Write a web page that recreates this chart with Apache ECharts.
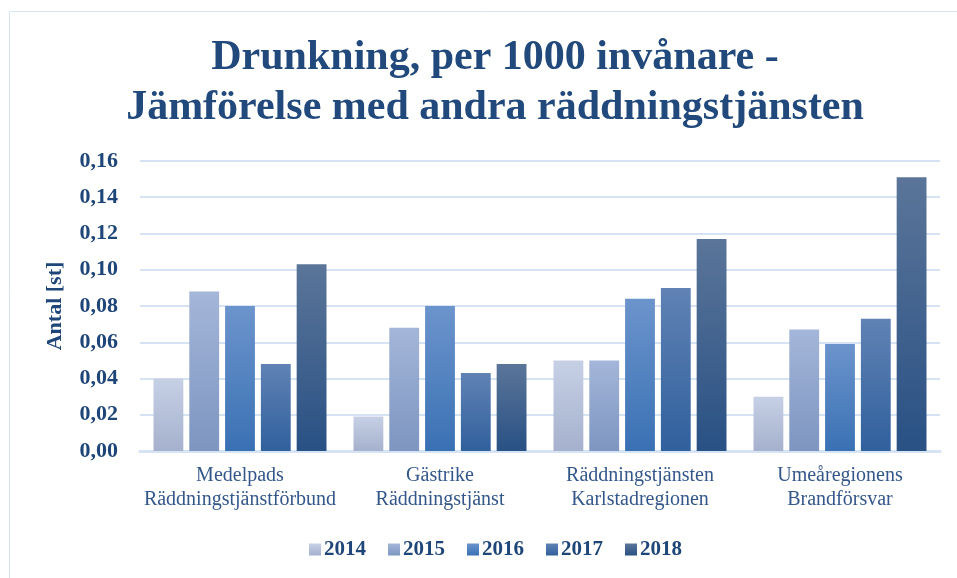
<!DOCTYPE html>
<html>
<head>
<meta charset="utf-8">
<script src="https://cdn.jsdelivr.net/npm/echarts@6/dist/echarts.min.js"></script>
<style>
  html, body { margin: 0; padding: 0; background: #fff; }
  #main { width: 957px; height: 578px; }
</style>
</head>
<body>
<div id="main"></div>
<script>
// data
var categories = [
    'Medelpads\nRäddningstjänstförbund',
    'Gästrike\nRäddningstjänst',
    'Räddningstjänsten\nKarlstadregionen',
    'Umeåregionens\nBrandförsvar'
];
var years = ['2014', '2015', '2016', '2017', '2018'];
var v2014 = [0.040, 0.019, 0.050, 0.030];
var v2015 = [0.088, 0.068, 0.050, 0.067];
var v2016 = [0.080, 0.080, 0.084, 0.059];
var v2017 = [0.048, 0.043, 0.090, 0.073];
var v2018 = [0.103, 0.048, 0.117, 0.151];
var yTicks = [0, 0.02, 0.04, 0.06, 0.08, 0.10, 0.12, 0.14, 0.16];

var values = [v2014, v2015, v2016, v2017, v2018];
// top / bottom colours of each year's gradient
var shades = [
    ['#c6d0e5', '#a5b1cd'],
    ['#a4b6d9', '#7d95c0'],
    ['#6c94cc', '#3a71b4'],
    ['#6082b4', '#30609d'],
    ['#5b7599', '#295184']
];

var font = '"Liberation Serif", "DejaVu Serif", serif';
var navy = '#1f4678';

var series = years.map(function (y, i) {
    return {
        name: y,
        type: 'bar',
        data: values[i],
        barGap: '20%',
        barCategoryGap: '13.5%',
        itemStyle: {
            color: new echarts.graphic.LinearGradient(0, 0, 0, 1, [
                {offset: 0, color: shades[i][0]},
                {offset: 1, color: shades[i][1]}
            ])
        }
    };
});

var myChart = echarts.init(document.getElementById('main'));
myChart.setOption({
    backgroundColor: '#fff',
    animation: false,
    graphic: [{
        type: 'rect',
        shape: {x: 9.5, y: 11.5, width: 960, height: 600},
        style: {fill: 'none', stroke: '#d5e3f4', lineWidth: 1}
    }],
    title: {
        text: 'Drunkning, per 1000 invånare -\nJämförelse med andra räddningstjänsten',
        left: 490,
        textAlign: 'center',
        top: 28,
        textStyle: {
            fontFamily: font,
            fontWeight: 'bold',
            fontSize: 42,
            lineHeight: 50,
            color: '#22497c'
        }
    },
    legend: {
        bottom: 13,
        left: 304,
        itemWidth: 12,
        itemHeight: 12,
        itemGap: 22,
        icon: 'rect',
        textStyle: {
            fontFamily: font,
            fontWeight: 'bold',
            fontSize: 21,
            color: navy,
            padding: [0, 0, 0, -2]
        }
    },
    grid: {left: 140, right: 17, top: 161, bottom: 127, containLabel: false},
    xAxis: {
        type: 'category',
        data: categories,
        axisTick: {show: false},
        axisLine: {lineStyle: {color: '#d6e3f4', width: 3}},
        axisLabel: {
            interval: 0,
            margin: 13,
            fontFamily: font,
            fontSize: 20,
            lineHeight: 24,
            color: '#34578a'
        }
    },
    yAxis: {
        type: 'value',
        min: 0,
        max: 0.16,
        interval: 0.02,
        name: 'Antal [st]',
        nameLocation: 'middle',
        nameGap: 74,
        nameTextStyle: {
            fontFamily: font,
            fontWeight: 'bold',
            fontSize: 22,
            color: navy
        },
        axisLine: {show: false},
        axisTick: {show: false},
        splitLine: {lineStyle: {color: '#d6e3f4', width: 2}},
        axisLabel: {
            margin: 22,
            fontFamily: font,
            fontWeight: 'bold',
            fontSize: 22,
            color: navy,
            formatter: function (v) {
                var t = yTicks.filter(function (k) { return Math.abs(k - v) < 1e-9; });
                return t.length ? t[0].toFixed(2).replace('.', ',') : '';
            }
        }
    },
    series: series
});
</script>
</body>
</html>
